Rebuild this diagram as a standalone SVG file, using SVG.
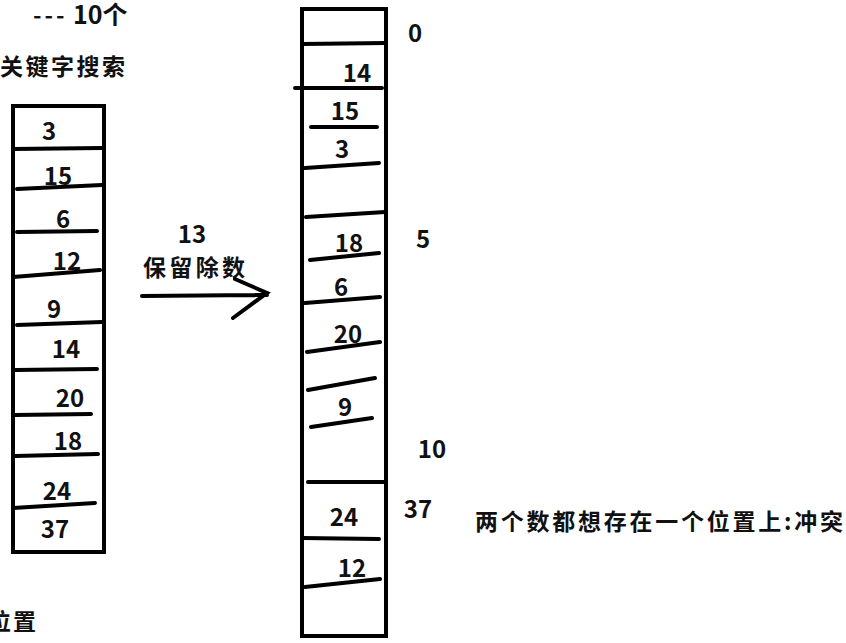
<svg xmlns="http://www.w3.org/2000/svg" width="846" height="643" viewBox="0 0 846 643">
<style>
.t{font-family:"Noto Sans CJK SC","Liberation Sans",sans-serif;font-weight:bold;fill:#111;}
.n{font-size:24px;text-anchor:middle;}
.c{font-size:23px;}
.ln{stroke:#000;stroke-width:4;stroke-linecap:round;fill:none;}
.box{stroke:#000;stroke-width:4;fill:none;}
</style>
<rect width="846" height="643" fill="#fff"/>
<g id="title">
<text class="t c" x="33" y="24"><tspan letter-spacing="3">---</tspan><tspan x="73" font-size="25">10个</tspan></text>
<text class="t c" x="0" y="75" textLength="125" lengthAdjust="spacing">关键字搜索</text>
<text class="t c" x="-12" y="630" textLength="48" lengthAdjust="spacing">位置</text>
</g>
<g id="left-table">
<rect class="box" x="13" y="106" width="91" height="446"/>
<path class="ln" d="M13 149L102 148M17 189L102 185M17 232L97 231M13 277L100 270M17 325L102 322M15 370L97 369M15 415L91 414M15 456L98 454M13 508L95 503"/>
<text class="t n" x="49" y="140">3</text>
<text class="t n" x="58" y="185">15</text>
<text class="t n" x="63" y="228">6</text>
<text class="t n" x="67" y="270">12</text>
<text class="t n" x="54" y="318">9</text>
<text class="t n" x="66" y="358">14</text>
<text class="t n" x="70" y="407">20</text>
<text class="t n" x="68" y="450">18</text>
<text class="t n" x="57" y="500">24</text>
<text class="t n" x="55" y="538">37</text>
</g>
<g id="arrow">
<text class="t n" x="192" y="243">13</text>
<text class="t c" x="143" y="276" textLength="102" lengthAdjust="spacing">保留除数</text>
<path class="ln" d="M142 296L267 295M235 279L267 293L233 318"/>
</g>
<g id="right-table">
<rect class="box" x="302" y="9" width="84" height="627"/>
<path class="ln" d="M302 44L386 43M295 88L382 88M311 127L377 127M305 168L379 163M306 217L385 212M310 260L379 253M305 303L380 297M307 352L380 342M308 390L375 378M311 427L372 418M308 482L386 482M302 538L379 539M305 587L380 579"/>
<text class="t n" x="357" y="82">14</text>
<text class="t n" x="345" y="120">15</text>
<text class="t n" x="342" y="158">3</text>
<text class="t n" x="349" y="252">18</text>
<text class="t n" x="341" y="296">6</text>
<text class="t n" x="348" y="343">20</text>
<text class="t n" x="345" y="416">9</text>
<text class="t n" x="344" y="526">24</text>
<text class="t n" x="352" y="577">12</text>
</g>
<g id="indices">
<text class="t n" x="415" y="42">0</text>
<text class="t n" x="423" y="248">5</text>
<text class="t n" x="432" y="458">10</text>
<text class="t n" x="418" y="518">37</text>
</g>
<g id="note">
<text class="t c" x="475" y="530" textLength="368" lengthAdjust="spacing">两个数都想存在一个位置上:冲突</text>
</g>
</svg>
